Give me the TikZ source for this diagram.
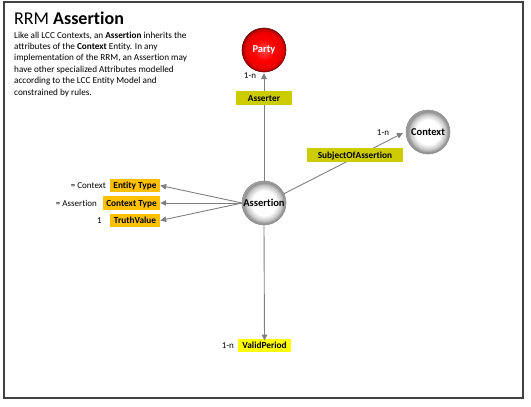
\documentclass[tikz,border=0pt]{standalone}
\usepackage{fontspec}
\setmainfont[Ligatures={NoCommon}]{Carlito}
\usetikzlibrary{arrows.meta,shapes.geometric}
\definecolor{olivey}{HTML}{CCCC00}
\definecolor{orangey}{HTML}{FFC000}
\definecolor{brighty}{HTML}{FFFF00}
\definecolor{linegray}{HTML}{7F7F7F}
\pgfdeclareradialshading{greyball}{\pgfpoint{0bp}{0bp}}{color(0bp)=(white); color(14bp)=(white); color(20bp)=(black!22); color(23.5bp)=(black!45); color(25bp)=(black!35); color(50bp)=(black!35)}
\pgfdeclareradialshading{redball}{\pgfpoint{0bp}{0bp}}{color(0bp)=(red!70!white); color(12bp)=(red); color(21bp)=(red!92!black); color(24bp)=(red!70!black); color(25bp)=(red!55!black); color(50bp)=(red!55!black)}
\tikzset{
  ball/.style={circle,minimum size=44pt,inner sep=0pt,draw=black!45,line width=0.6pt,
    shading=greyball,font=\fontsize{10.5}{11}\selectfont\bfseries},
  redball/.style={ball,draw=red!45!black,shading=redball,text=white},
  attr/.style={inner sep=0pt,minimum height=13.5pt,text depth=0pt,font=\fontsize{9.3}{9.5}\selectfont\bfseries},
  lbl/.style={inner sep=0pt,font=\fontsize{9}{9.5}\selectfont},
  conn/.style={draw=linegray,line width=0.9pt,-{Triangle[length=6pt,width=5.5pt]}}
}
\begin{document}
\begin{tikzpicture}[x=1pt,y=-1pt]
\useasboundingbox (0,0) rectangle (531,407);
\draw[line width=1.3pt,draw=black!75] (4,2) rectangle (523,398);
\node[anchor=base west,inner sep=0pt,font=\fontsize{18}{19}\selectfont] (title) at (14,24) {RRM \textbf{Assertion}};
\node[anchor=north west,inner sep=0pt,align=left,font=\fontsize{9.2}{11.4}\selectfont] (desc) at (14,31.5)
 {Like all LCC Contexts, an \textbf{Assertion} inherits the\\
  attributes of the \textbf{Context} Entity. In any\\
  implementation of the RRM, an Assertion may\\
  have other specialized Attributes modelled\\
  according to the LCC Entity Model and\\
  constrained by rules.};
\node[redball] (party) at (264,50) {Party};
\node[ball] (context) at (428,132) {Context};
\node[ball] (assert) at (264,203) {Assertion};
% attribute boxes
\node[attr,fill=orangey,minimum width=50pt] (etype) at (135,185.5) {Entity Type};
\node[attr,fill=orangey,minimum width=57pt] (ctype) at (131.5,203) {Context Type};
\node[attr,fill=orangey,minimum width=50pt] (tval) at (135,220.5) {TruthValue};
\node[lbl,anchor=east] (l1) at (106,185.5) {= Context};
\node[lbl,anchor=east] (l2) at (97,203) {= Assertion};
\node[lbl,anchor=east] (l3) at (102,220.5) {1};
\coordinate (aw) at (242,203);
\draw[conn] (aw) -- (etype.east);
\draw[conn] (aw) -- (ctype.east);
\draw[conn] (aw) -- (tval.east);
% party
\coordinate (pe) at (264,73);
\draw[conn] (assert.north) -- (pe);
\node[attr,fill=olivey,minimum width=56pt] (asserter) at (264,98) {Asserter};
\node[lbl] (n1) at (250,76) {1-n};
% context
\coordinate (ce) at (403,133);
\draw[conn] (assert.25) -- (ce);
\node[attr,fill=olivey,minimum width=96pt] (subj) at (355,155) {SubjectOfAssertion};
\node[lbl] (n2) at (383,132.5) {1-n};
% valid period
\node[attr,fill=brighty,minimum width=53pt] (valid) at (264.5,345.5) {ValidPeriod};
\draw[conn] (assert.south) -- ([yshift=-2pt]valid.north);
\node[lbl,anchor=east] (n3) at (234,345.5) {1-n};
\end{tikzpicture}
\end{document}
